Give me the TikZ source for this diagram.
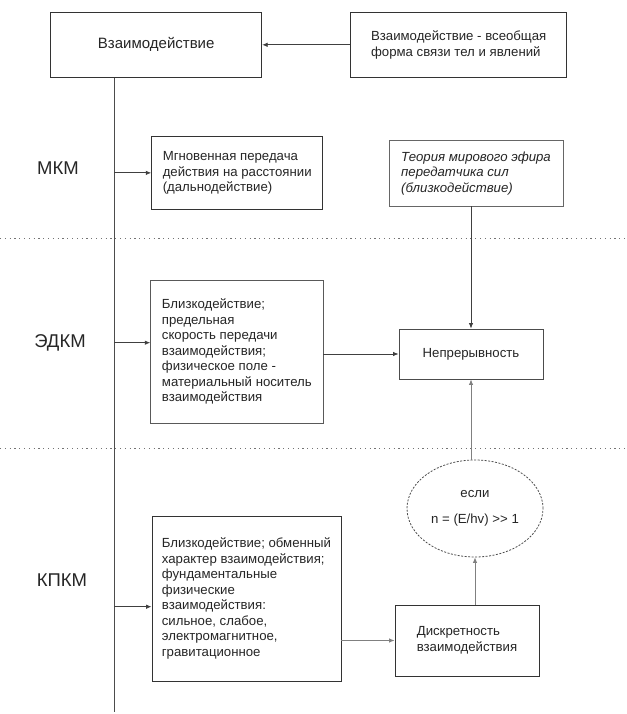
\documentclass[tikz,border=0pt]{standalone}
\usepackage{fontspec}
\setmainfont{Liberation Sans}
\usetikzlibrary{arrows.meta,shapes.geometric}
\newcommand{\bodyfont}{\fontsize{13.2}{15.5}\selectfont}
\newcommand{\titlefont}{\fontsize{15}{17}\selectfont}
\newcommand{\lvlfont}{\fontsize{18.5}{20}\selectfont}
\tikzset{
  box/.style={draw=black!80, line width=0.9pt, fill=white, align=left, inner sep=0pt, font=\bodyfont, text=black!85},
  arr/.style={-{Latex[length=5.5pt,width=4.5pt]}, draw=black!75, line width=0.8pt},
  arrlight/.style={arr, draw=black!50},
  sepline/.style={draw=black!55, line width=1pt, dash pattern=on 1.2pt off 3.6pt},
  lvl/.style={font=\lvlfont, text=black!85},
}
\begin{document}
\begin{tikzpicture}[x=1pt,y=-1pt]
\useasboundingbox (0,0) rectangle (626,714);
% separators
\coordinate (s1l) at (0,238); \coordinate (s1r) at (626,238);
\coordinate (s2l) at (0,448); \coordinate (s2r) at (626,448);
\draw[sepline] (s1l) -- (s1r);
\draw[sepline] (s2l) -- (s2r);

% top boxes
\node[box, minimum width=211pt, minimum height=65pt, font=\titlefont] (A) at (156.2,44.8) {Взаимодействие};
\node[box] (B) [minimum width=216pt, minimum height=65pt] at (458.7,44.8) {Взаимодействие - всеобщая\\форма связи тел и явлений};
\draw[arr] (B.west) -- (A.east);

% main vertical line
\coordinate (lbot) at (114,712);
\draw[draw=black!70, line width=0.9pt] (A.south -| lbot) -- (lbot);

% level labels
\node[lvl] (mkm) at (58,168) {МКМ};
\node[lvl] (edkm) at (60,343) {ЭДКМ};
\node[lvl] (kpkm) at (62,580) {КПКМ};

% MKM
\node[box, minimum width=171pt, minimum height=72.3pt] (C) at (237.2,172.85) {Мгновенная передача\\действия на расстоянии\\(дальнодействие)};
\draw[arr] (C.west -| lbot) -- (C.west);

\node[box, draw=black!60, minimum width=174pt, minimum height=65.3pt, font=\bodyfont\itshape] (D) at (476,173.35) {Теория мирового эфира\\передатчика сил\\(близкодействие)};

% EDKM
\node[box, draw=black!65, minimum width=172.3pt, minimum height=142.3pt] (E) at (236.85,351.85) {Близкодействие;\\предельная\\скорость передачи\\взаимодействия;\\физическое поле -\\материальный носитель\\взаимодействия};
\coordinate (ein) at (114,342.7);
\draw[arr] (ein) -- (ein -| E.west);

\node[box, draw=black!70, minimum width=144pt, minimum height=50pt] (F) at (471,354) {Непрерывность};
\draw[arr] (D.south -| F.north) -- (F.north);
\draw[arr] (F.west -| E.east) -- (F.west);

% KPKM
\node[draw=black!70, dash pattern=on 2pt off 1.5pt, line width=0.8pt, ellipse, minimum width=136pt, minimum height=97pt, inner sep=0pt, fill=white, align=center, font=\bodyfont, text=black!85] (G) at (475,508.5) {если\\[11pt]n = (E/hv) >{}> 1};
\draw[arrlight] (G.north -| F.south) -- (F.south);

\node[box, minimum width=189pt, minimum height=165pt] (H) at (246.5,598.5) {Близкодействие; обменный\\характер взаимодействия;\\фундаментальные\\физические\\взаимодействия:\\сильное, слабое,\\электромагнитное,\\гравитационное};
\coordinate (hin) at (114,606.7);
\draw[arr] (hin) -- (hin -| H.west);

\node[box, minimum width=144pt, minimum height=71pt] (I) at (467,640.5) {Дискретность\\взаимодействия};
\draw[arrlight] (I.west -| H.east) -- (I.west);
\draw[arrlight] (G.south |- I.north) -- (G.south);
\end{tikzpicture}
\end{document}
